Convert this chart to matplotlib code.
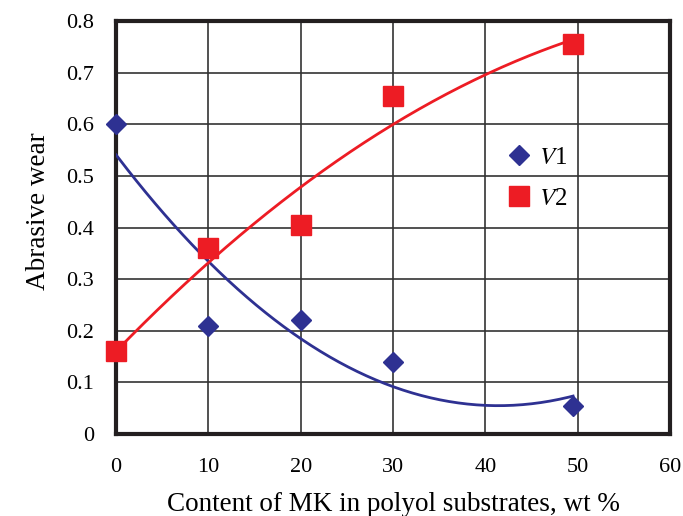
import numpy as np
import matplotlib.pyplot as plt

x_v1 = [0, 10, 20, 30, 49.5]
y_v1 = [0.60, 0.21, 0.22, 0.14, 0.055]
x_v2 = [0, 10, 20, 30, 49.5]
y_v2 = [0.16, 0.36, 0.405, 0.655, 0.755]

blue = '#2E3192'
red = '#ED1C24'

plt.rcParams['font.family'] = ['Liberation Serif', 'DejaVu Serif']
plt.rcParams['mathtext.fontset'] = 'stix'

fig = plt.figure(figsize=(6.83, 5.16), dpi=100)
ax = fig.add_axes([0.170, 0.159, 0.811, 0.800])

# second-order trend lines
xs = np.linspace(0, 49.5, 200)
p1 = np.polyfit(x_v1, y_v1, 2)
p2 = np.polyfit(x_v2, y_v2, 2)
ax.plot(xs, np.polyval(p1, xs), color=blue, lw=2, zorder=3)
ax.plot(xs, np.polyval(p2, xs), color=red, lw=2, zorder=3)

ax.plot(x_v1, y_v1, 'D', color=blue, markersize=9.7, label='$V$1',
        clip_on=False, zorder=4)
ax.plot(x_v2, y_v2, 's', color=red, markersize=15, label='$V$2',
        clip_on=False, zorder=4)

ax.set_xlim(0, 60)
ax.set_ylim(0, 0.8)
ax.set_xticks(range(0, 61, 10))
ax.set_yticks(np.arange(0, 0.81, 0.1))
ax.set_yticklabels(['0', '0.1', '0.2', '0.3', '0.4', '0.5', '0.6', '0.7', '0.8'])
ax.tick_params(length=0, labelsize=16)
ax.tick_params(axis='x', pad=17)
ax.tick_params(axis='y', pad=16)
ax.grid(True, color='#333333', lw=1.2)
ax.set_axisbelow(True)
for s in ax.spines.values():
    s.set_linewidth(3)
    s.set_color('#231F20')

ax.set_xlabel('Content of MK in polyol substrates, wt %', fontsize=19.5, labelpad=11)
ax.set_ylabel('Abrasive wear', fontsize=19.5)
ax.yaxis.set_label_coords(-0.118, 0.54)

ax.legend(loc='center left', bbox_to_anchor=(0.665, 0.62), frameon=False,
          fontsize=18, handletextpad=0.3, labelspacing=0.75, handlelength=1.0)

fig.savefig('out.png', dpi=100)
